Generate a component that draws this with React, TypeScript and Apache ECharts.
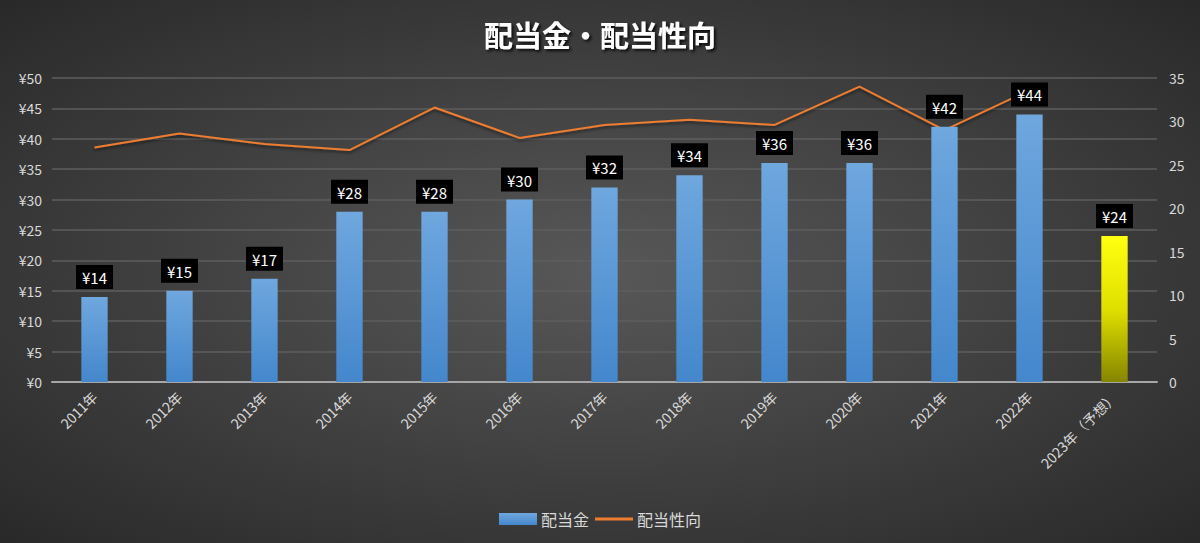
import { useEffect, useRef } from "react";
import * as echarts from "echarts";

const categories = [
  "2011年", "2012年", "2013年", "2014年", "2015年", "2016年", "2017年",
  "2018年", "2019年", "2020年", "2021年", "2022年", "2023年（予想）",
];
// 配当金 (円)
const dividends = [14, 15, 17, 28, 28, 30, 32, 34, 36, 36, 42, 44, 24];
// 配当性向 (%) — 2023 has no value
const payoutRatio: (number | null)[] = [
  27, 28.6, 27.4, 26.7, 31.6, 28.1, 29.6, 30.2, 29.6, 34, 29, 33.6, null,
];
const forecastIndex = 12;

const FONT = "'Noto Sans CJK JP', 'Noto Sans', sans-serif";

// thin horizontal bar with invisible corner points so the icon keeps its box
const LINE_ICON =
  "path://M0,0L0.01,0L0.01,0.01L0,0.01Z M0,4.6L38,4.6L38,7.4L0,7.4Z M37.99,11.99L38,11.99L38,12L37.99,12Z";

export default function App() {
  const chartRef = useRef<HTMLDivElement>(null);

  useEffect(() => {
    document.body.style.margin = "0";
    if (!chartRef.current) return;
    const chart = echarts.init(chartRef.current, null, { renderer: "svg" });

    const blueBar = new echarts.graphic.LinearGradient(0, 0, 0, 1, [
      { offset: 0, color: "#6fa7de" },
      { offset: 1, color: "#4487cc" },
    ]);
    const yellowBar = new echarts.graphic.LinearGradient(0, 0, 0, 1, [
      { offset: 0, color: "#ffff10" },
      { offset: 0.5, color: "#e0e000" },
      { offset: 1, color: "#858500" },
    ]);

    const barData = dividends.map((v, i) => ({
      value: v,
      itemStyle: { color: i === forecastIndex ? yellowBar : blueBar },
    }));

    chart.setOption({
      animation: false,
      backgroundColor: new echarts.graphic.RadialGradient(0.5, 0.5, 0.75, [
        { offset: 0, color: "#585858" },
        { offset: 1, color: "#262626" },
      ]),
      textStyle: { fontFamily: FONT },
      title: {
        text: "配当金・配当性向",
        left: "center",
        top: 14,
        textStyle: {
          color: "#ffffff",
          fontSize: 29,
          fontWeight: "bold",
          fontFamily: FONT,
          textShadowColor: "rgba(0,0,0,0.85)",
          textShadowBlur: 3,
          textShadowOffsetX: 2,
          textShadowOffsetY: 2,
        },
      },
      legend: {
        top: 506,
        left: "center",
        itemWidth: 38,
        itemHeight: 12,
        itemGap: 6,
        textStyle: { color: "#d9d9d9", fontSize: 16, fontFamily: FONT, padding: [0, 0, 0, -1] },
        data: [
          { name: "配当金", icon: "rect" },
          { name: "配当性向", icon: LINE_ICON, itemStyle: { color: "#ed7d31" } },
        ],
      },
      grid: { left: 52, right: 43, top: 78, bottom: 161 },
      xAxis: {
        type: "category",
        data: categories,
        axisLine: { lineStyle: { color: "#a6a6a6", width: 2 } },
        axisTick: { show: false },
        axisLabel: {
          color: "#d9d9d9",
          fontSize: 14,
          rotate: 45,
          margin: 12,
          interval: 0,
          fontFamily: FONT,
        },
      },
      yAxis: [
        {
          type: "value",
          min: 0,
          max: 50,
          interval: 5,
          axisLine: { show: false },
          axisTick: { show: false },
          axisLabel: {
            color: "#d9d9d9",
            fontSize: 14,
            formatter: "¥{value}",
            margin: 10,
            fontFamily: FONT,
          },
          splitLine: { lineStyle: { color: "#5e5e5e", width: 1.5 } },
        },
        {
          type: "value",
          min: 0,
          max: 35,
          interval: 5,
          axisLine: { show: false },
          axisTick: { show: false },
          axisLabel: { color: "#d9d9d9", fontSize: 14, margin: 12, fontFamily: FONT },
          splitLine: { show: false },
        },
      ],
      series: [
        {
          name: "配当金",
          type: "bar",
          data: barData,
          barWidth: "31%",
          itemStyle: { color: blueBar },
          label: {
            show: true,
            position: "top",
            distance: 8,
            formatter: "¥{c}",
            color: "#ffffff",
            fontSize: 15,
            fontFamily: FONT,
            backgroundColor: "#000000",
            padding: [5, 6, 4, 6],
          },
          z: 3,
        },
        {
          name: "配当性向",
          type: "line",
          yAxisIndex: 1,
          data: payoutRatio,
          symbol: "none",
          showSymbol: false,
          lineStyle: {
            color: "#ed7d31",
            width: 2,
            shadowColor: "rgba(0,0,0,0.5)",
            shadowBlur: 3,
            shadowOffsetY: 2,
          },
          itemStyle: { color: "#ed7d31" },
          z: 2,
        },
      ],
    });

    const onResize = () => chart.resize();
    window.addEventListener("resize", onResize);
    return () => {
      window.removeEventListener("resize", onResize);
      chart.dispose();
    };
  }, []);

  return <div ref={chartRef} style={{ width: 1200, height: 543 }} />;
}
